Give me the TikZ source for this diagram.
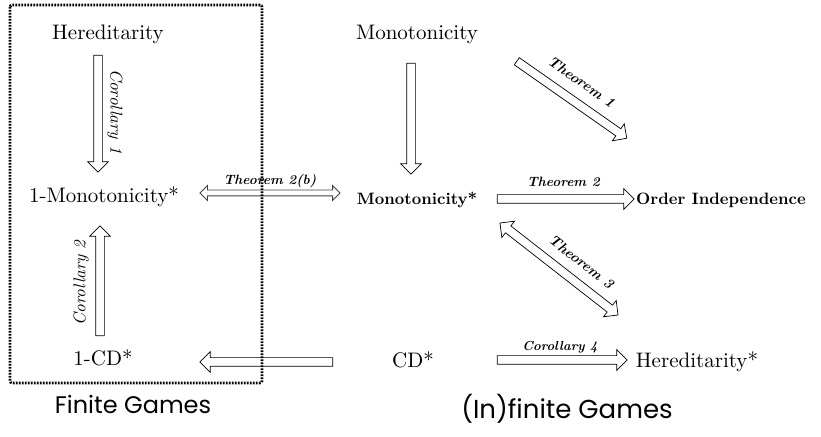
\documentclass[tikz,border=0pt]{standalone}
\usepackage{fontspec}
\setmainfont{lmroman10-regular.otf}[BoldFont=lmroman10-bold.otf, ItalicFont=lmroman10-italic.otf,
  BoldItalicFont=lmroman10-bolditalic.otf]
\newfontfamily\gamesfont{Poppins}
\usetikzlibrary{shapes.arrows,calc}

% hollow block arrow between two points, with a sloped label
\newcommand{\blockarrow}[5]{%
  \path let \p1=(#2), \p2=(#3), \n1={veclen(\x2-\x1,\y2-\y1)} in
    (\p1) -- node[#1, minimum height=\n1] {} node[lbl, #4] {#5} (\p2);}

\begin{document}
\begin{tikzpicture}[x=1pt, y=1pt,
  prop/.style={anchor=base, inner sep=2pt, font=\fontsize{21}{24}\selectfont},
  mainprop/.style={prop, font=\fontsize{16.5}{19}\selectfont\bfseries},
  region/.style={anchor=base, font=\gamesfont\fontsize{24}{28}\selectfont},
  sarrow/.style={single arrow, draw, fill=white, line width=.7pt, inner xsep=0pt, inner ysep=4pt,
    minimum width=0pt, single arrow head extend=6pt, sloped, allow upside down},
  darrow/.style={double arrow, draw, fill=white, line width=.7pt, inner xsep=0pt, inner ysep=4pt,
    minimum width=0pt, double arrow head extend=6pt, sloped, allow upside down},
  lbl/.style={sloped, inner sep=1pt, font=\fontsize{13.5}{15}\selectfont\bfseries\itshape},
  diaglbl/.style={font=\fontsize{14.5}{16}\selectfont\bfseries\itshape},
  corlbl/.style={font=\fontsize{17}{19}\selectfont\itshape},
  finitebox/.style={line width=2.6pt, dash pattern=on 1.7pt off 1.3pt, rounded corners=2pt}]
  \useasboundingbox (0,0) rectangle (821,436);

  % finite games
  \node[prop] (hered) at (108,396) {Hereditarity};
  \node[prop] (mono1) at (104,233) {1-Monotonicity*};
  \node[prop] (cd1) at (103,70) {1-CD*};
  % (in)finite games
  \node[prop] (mono) at (417,396) {Monotonicity};
  \node[mainprop] (monostar) at (417,231) {Monotonicity*};
  \node[mainprop] (orderind) at (721,231) {Order Independence};
  \node[prop] (cd) at (413,68) {CD*};
  \node[prop] (heredstar) at (697,68) {Hereditarity*};

  \node[region] (finite) at (133,23) {Finite Games};
  \node[region, font=\gamesfont\fontsize{26}{30}\selectfont] (infinite) at (567,18) {(In)finite Games};

  \blockarrow{sarrow}{[shift={(-10,-13)}]hered.base}{[shift={(-6,33)}]mono1.base}{corlbl, above=8pt}{Corollary 1}
  \blockarrow{sarrow}{[shift={(-3,28)}]cd1.base}{[shift={(-4,-25)}]mono1.base}{corlbl, above=10pt}{Corollary 2}
  \blockarrow{darrow, inner ysep=2.5pt, double arrow head extend=4.5pt, line width=.9pt, draw=black!75}{[shift={(96,10)}]mono1.base}{[shift={(-77,12)}]monostar.base}{above=4pt}{Theorem 2(b)}
  \blockarrow{sarrow}{[shift={(-6,-21)}]mono.base}{[shift={(-6,33)}]monostar.base}{}{}
  \blockarrow{sarrow}{[shift={(98,-20)}]mono.base}{[shift={(-96,68)}]orderind.base}{diaglbl, above=14pt}{Theorem 1}
  \blockarrow{sarrow}{[shift={(78,6)}]monostar.base}{[shift={(-89,6)}]orderind.base}{above=11pt}{Theorem 2}
  \blockarrow{darrow}{[shift={(83,-18)}]monostar.base}{[shift={(-79,53)}]heredstar.base}{diaglbl, pos=.59, above=13pt}{Theorem 3}
  \blockarrow{sarrow}{[shift={(-78,6)}]cd.base}{[shift={(99,4)}]cd1.base}{}{}
  \blockarrow{sarrow}{[shift={(82,8)}]cd.base}{[shift={(-72,8)}]heredstar.base}{above=6pt, font=\fontsize{13}{15}\selectfont\bfseries\itshape}{Corollary 4}

  \draw[finitebox] (10,431) rectangle (262,53);
\end{tikzpicture}
\end{document}
